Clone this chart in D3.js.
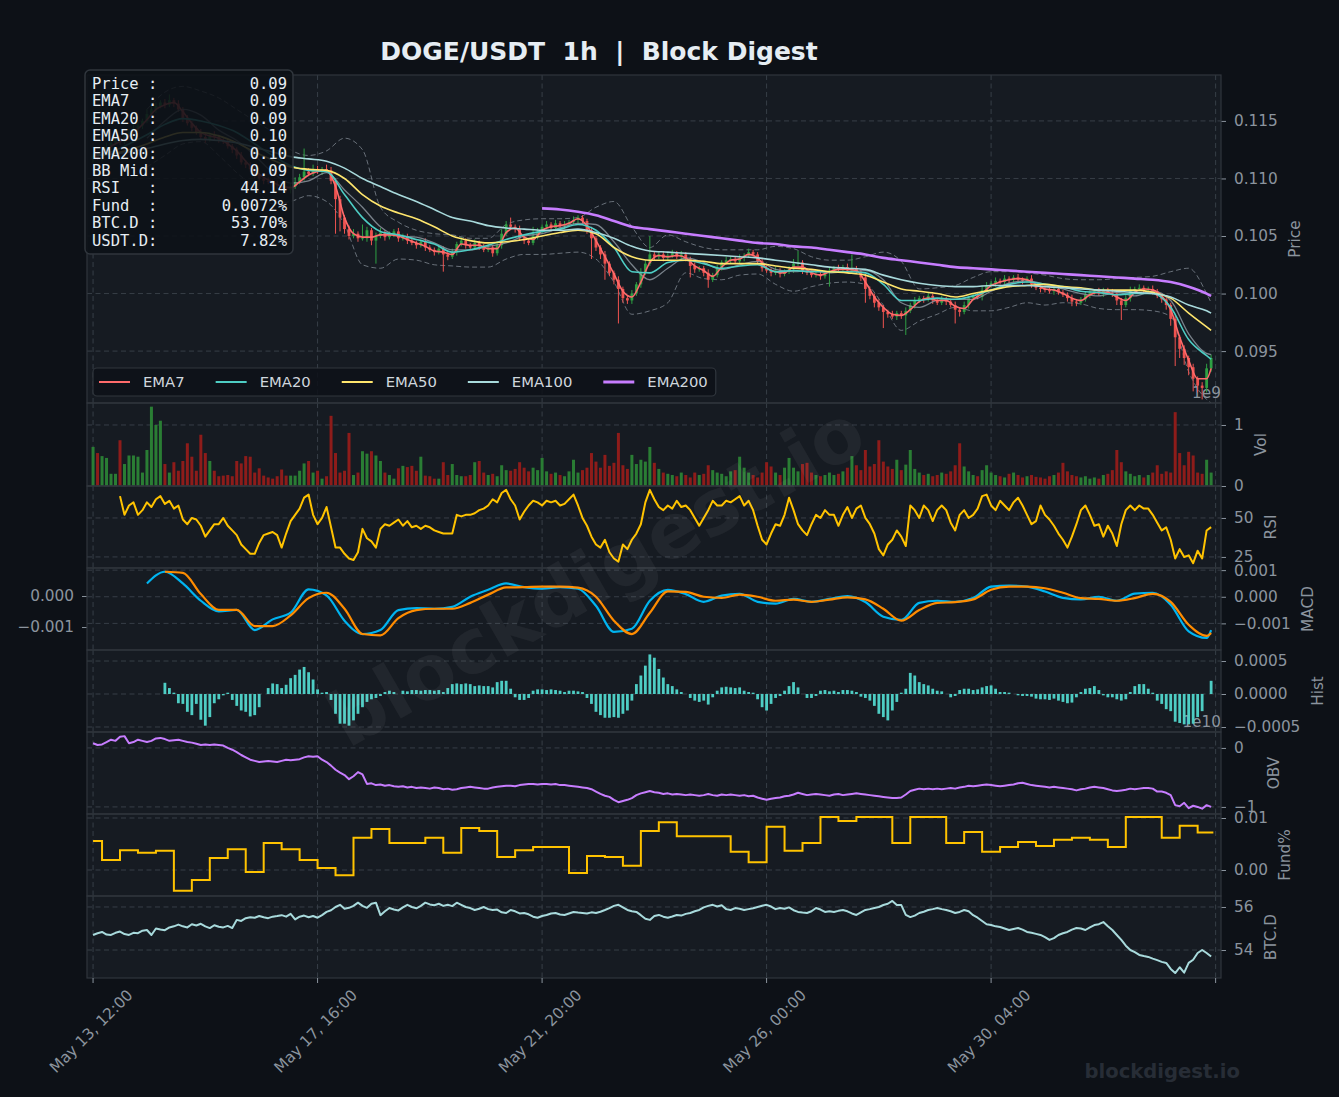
<!DOCTYPE html>
<html>
<head>
<meta charset="utf-8">
<script src="https://cdn.jsdelivr.net/npm/d3@7"></script>
<style>
  html, body { margin: 0; padding: 0; background: #0d1117; }
  svg { display: block; }
</style>
</head>
<body>
<div id="chart"></div>
<script>
// ---- data (hourly chart, sampled every 2h; prices in 1e-4 USDT) ----
const startUTC = Date.UTC(2025, 4, 13, 12);
const firstOpen = 1117;
const closes = [
  1120,1118,1124,1127,1131,1134,1132,1137,1140,1143, 1146,1150,1156,1160,1163,1166,1164,1168,1165,1160,
  1152,1148,1144,1140,1136,1134,1138,1136,1133,1132, 1128,1125,1120,1114,1112,1108,1103,1100,1098,1097,
  1095,1094,1091,1090,1093,1097,1101,1106,1104,1108, 1106,1108,1107,1098,1082,1066,1056,1050,1052,1048,
  1048,1055,1046,1050,1053,1049,1051,1054,1048,1050, 1046,1044,1042,1045,1040,1038,1036,1039,1034,1032,
  1036,1043,1046,1042,1040,1044,1041,1038,1040,1035, 1042,1052,1060,1058,1056,1048,1046,1044,1050,1054,
  1058,1060,1057,1061,1059,1060,1062,1064,1066,1063, 1055,1048,1040,1034,1026,1018,1012,1004,996,994,
  1000,1008,1018,1026,1034,1032,1034,1031,1033,1035, 1032,1034,1030,1024,1021,1022,1018,1012,1016,1022,
  1027,1029,1030,1028,1031,1033,1036,1034,1028,1022, 1020,1018,1020,1017,1019,1021,1026,1027,1020,1018,
  1016,1017,1015,1018,1020,1022,1021,1023,1020,1022, 1019,1014,1004,998,992,988,984,982,980,983,
  981,985,990,994,996,995,998,994,992,995, 993,990,986,984,990,996,998,997,1003,1007,
  1009,1011,1010,1013,1012,1014,1012,1011,1013,1008, 1005,1004,1003,1002,1004,1001,999,996,993,992,
  995,999,1001,1002,1000,1003,1001,1000,994,990, 996,1002,1004,1005,1003,1004,1002,998,995,990,
  978,962,952,944,936,926,920,918,935,944
];
const wickUp = [
  2,3,2,4,3,2,3,2,3,4, 3,2,4,4,3,2,3,5,2,3, 2,3,2,2,3,4,2,3,2,2, 3,2,2,3,2,2,3,2,2,3,
  2,3,2,2,3,4,3,20,3,4, 3,2,4,3,2,3,2,3,4,2, 12,3,2,3,4,2,3,2,3,2, 2,3,2,2,3,2,2,3,2,2,
  3,2,3,2,2,3,2,2,3,2, 3,4,3,6,2,3,2,2,8,3, 2,3,2,3,2,3,2,3,2,2, 2,3,2,2,3,2,2,3,2,2,
  3,2,4,3,16,3,2,3,2,3, 2,3,2,2,3,2,2,3,2,3, 2,3,2,2,3,2,3,2,2,3, 2,2,3,2,2,3,4,10,2,2,
  2,3,2,2,3,2,3,2,3,12, 2,2,3,2,2,3,2,2,3,2, 2,3,2,3,2,2,3,2,2,3, 2,2,3,2,3,2,2,3,4,3,
  2,3,2,3,2,2,3,2,2,3, 2,2,3,2,2,3,2,2,3,2, 2,3,2,2,3,2,2,3,2,2, 3,4,2,3,2,2,3,2,2,3,
  2,3,2,3,2,3,2,3,4,3
];
const wickDn = [
  3,2,3,2,3,2,3,2,2,3, 2,3,2,2,3,2,3,2,3,2, 3,2,3,2,2,3,2,3,2,2, 2,3,3,2,3,2,3,2,3,2,
  2,3,2,2,3,2,2,3,2,2, 2,3,2,3,30,12,4,3,2,3, 2,3,4,20,2,3,2,2,3,2, 3,2,3,2,3,2,3,2,15,3,
  2,3,2,3,2,2,3,2,2,3, 2,3,2,2,3,2,3,2,2,3, 2,2,3,2,2,3,2,2,3,2, 3,18,3,4,14,3,4,30,4,3,
  3,2,3,2,2,3,2,3,2,2, 2,3,2,10,3,2,3,7,2,2, 2,2,3,2,2,3,2,2,3,3, 2,3,2,3,2,2,3,2,3,2,
  2,2,3,2,12,2,3,2,2,3, 2,3,12,3,4,3,14,3,2,3, 3,17,2,3,2,3,2,3,2,2, 3,2,12,4,2,3,2,2,3,2,
  2,3,2,2,3,2,2,3,2,3, 2,3,2,2,3,2,2,3,4,3, 2,2,3,2,2,3,2,3,4,13, 2,3,2,2,3,2,3,2,3,4,
  6,25,8,6,7,11,6,10,4,3
];
// volume in 1e7 units, one value per 2h bar
const volumes = [
  64,54,49,46,20,20,75,36,50,50, 48,22,59,130,100,107,36,22,39,25, 41,70,48,25,84,54,41,25,16,17,
  18,16,41,37,49,48,22,29,17,14, 12,16,27,17,17,17,25,37,41,22, 25,12,16,115,54,22,25,87,18,22,
  57,53,57,50,41,22,18,12,29,33, 31,33,25,48,17,16,12,12,39,18, 36,18,16,16,18,39,41,22,18,20,
  16,34,26,25,28,39,30,24,30,26, 46,24,20,22,18,16,24,43,22,26, 30,54,40,30,51,33,38,87,34,28,
  51,36,43,40,64,38,28,22,20,18, 16,22,18,14,22,18,20,34,26,22, 20,16,24,26,48,30,22,18,14,22,
  39,32,22,18,30,46,30,24,36,38, 22,18,16,18,22,18,20,24,30,49, 34,26,59,32,36,75,40,32,28,43,
  26,35,59,28,22,18,20,16,18,22, 20,24,34,70,32,24,18,16,26,34, 22,18,16,14,20,22,18,14,16,18,
  15,14,12,16,18,22,38,24,18,16, 14,16,12,14,12,18,20,26,59,39, 24,20,16,18,14,18,22,34,20,24,
  22,121,54,34,56,50,22,20,43,22
];
// EMA7 sampled every 4h (last sample = last bar)
const ema7 = [
  1120,1121,1128,1132,1137,1143,1151,1160,1164,1166, 1158,1148,1140,1137,1135,1130,1124,1115,1107,1101,
  1097,1093,1092,1097,1103,1106,1107,1093,1066,1052, 1049,1049,1051,1051,1050,1047,1044,1041,1037,1036,
  1034,1043,1042,1042,1039,1039,1053,1057,1049,1047, 1055,1058,1059,1061,1065,1059,1046,1032,1017,1002,
  997,1010,1027,1033,1032,1033,1031,1024,1020,1015, 1023,1029,1030,1034,1031,1022,1019,1018,1023,1023,
  1018,1016,1019,1021,1021,1020,1010,997,988,982, 981,986,993,996,994,994,989,987,995,1000,
  1007,1010,1012,1013,1012,1008,1004,1003,1000,996, 994,999,1001,1001,997,994,1001,1004,1003,998,
  986,962,942,926,926,935
];
// slower lines sampled every 8h (last sample = last bar)
const ema20 = [
  1120,1123,1130,1138,1147,1152,1150,1146,1140,1130, 1120,1111,1107,1106,1086,1066,1054,1051,1047,1043,
  1036,1038,1042,1047,1051,1054,1056,1060,1055,1040, 1019,1018,1027,1029,1026,1022,1024,1025,1019,1020,
  1019,1019,1019,1018,1008,994,994,996,995,998, 1003,1008,1010,1008,1006,1002,1001,999,1000,1000,
  988,960,946,943
];
const ema50 = [
  1120,1121,1125,1130,1136,1140,1140,1137,1131,1123, 1116,1110,1108,1107,1100,1086,1076,1070,1065,1058,
  1050,1046,1044,1045,1047,1050,1053,1055,1052,1040, 1032,1029,1029,1029,1028,1026,1026,1026,1024,1022,
  1021,1019,1018,1016,1010,1004,1002,1000,997,1000, 1003,1006,1007,1008,1006,1005,1003,1003,1003,1001,
  996,983,971,968
];
const ema100 = [
  1120,1121,1123,1126,1130,1133,1134,1133,1131,1127, 1123,1119,1117,1115,1109,1100,1093,1086,1080,1073,
  1066,1063,1059,1057,1056,1055,1055,1056,1053,1048, 1041,1037,1036,1035,1034,1033,1032,1031,1029,1027,
  1025,1023,1022,1021,1016,1012,1009,1007,1006,1006, 1007,1007,1007,1006,1005,1004,1003,1002,1001,1000,
  997,990,985,983
];
const ema200 = [
  null,null,null,null,null,null,null,null,null,null, null,null,null,null,null,null,null,null,null,null,
  null,null,null,null,null,1074,1073,1071,1068,1063, 1058,1056,1054,1052,1050,1048,1046,1044,1043,1041,
  1040,1038,1036,1034,1031,1029,1027,1025,1023,1022, 1021,1020,1019,1018,1017,1016,1015,1014,1013,1012,
  1010,1006,1000,998
];
const bbMid = [
  null,null,null,1135,1150,1160,1155,1142,1133,1120, 1105,1096,1098,1105,1090,1075,1058,1050,1049,1044,
  1038,1038,1041,1044,1050,1052,1057,1061,1060,1045, 1025,1012,1022,1031,1027,1021,1025,1028,1021,1019,
  1020,1018,1019,1020,1012,992,988,994,995,995, 1002,1009,1011,1008,1004,1000,998,1001,998,1002,
  994,965,948,947
];
const bbUpper = [
  null,null,null,1160,1175,1180,1176,1170,1160,1150, 1140,1125,1120,1124,1135,1125,1075,1062,1055,1052,
  1051,1048,1048,1060,1064,1065,1065,1066,1075,1080, 1058,1040,1051,1045,1040,1038,1038,1038,1041,1039,
  1032,1029,1029,1032,1036,1028,1004,1005,1007,1014, 1019,1019,1018,1016,1013,1012,1012,1013,1014,1015,
  1019,1022,1000,992
];
const bbLower = [
  null,null,null,1110,1120,1130,1132,1120,1105,1092, 1078,1080,1085,1080,1060,1025,1022,1030,1029,1025,
  1024,1023,1023,1030,1034,1034,1035,1036,1030,1010, 982,985,992,1018,1013,1012,1016,1017,1008,1002,
  1006,1009,1010,1008,990,968,976,982,988,985, 985,988,992,990,992,991,987,986,986,985,
  980,932,908,905
];
// RSI per 2h bar
const rsi = [
  null,null,null,null,null,null,64,52,58,60, 52,55,60,57,62,64,59,61,56,58, 49,46,50,49,45,38,42,46,46,50,
  45,42,39,33,30,27,27,34,39,40, 41,39,31,40,48,52,56,63,65,52, 46,50,57,44,31,31,27,24,23,28,
  43,37,35,31,43,46,45,47,49,45, 48,44,45,43,45,44,42,41,40,40, 40,52,51,52,52,53,55,56,58,62,
  60,66,68,62,58,49,54,58,61,60, 58,61,60,61,58,59,62,65,58,50, 45,38,33,31,36,28,24,22,33,30,
  36,40,46,60,68,62,57,55,58,56, 61,57,58,55,50,45,50,55,61,58, 58,61,60,62,64,58,61,55,45,36,
  33,40,46,45,52,63,55,46,42,39, 46,52,50,55,52,52,45,52,57,50, 56,58,50,46,40,30,26,33,36,42,
  38,32,58,55,50,58,55,48,55,58, 55,47,42,52,55,50,52,56,64,65, 58,55,61,58,55,60,63,58,52,46,
  48,58,52,49,45,40,36,31,38,46, 55,58,52,45,46,38,45,40,32,46, 55,58,55,58,56,56,52,47,42,44,
  36,24,30,25,26,21,29,24,42,44.14
];
// MACD / signal sampled every 8h, in 1e-4
const macd = [
  null,null,null,5.0,9.4,5.0,-1.5,-5.5,-4.9,-12.5, -8.5,-6.0,2.8,0.5,-9.0,-14.0,-12.5,-5.0,-4.3,-4.5,
  -3.8,0,2.6,5.0,3.6,3.0,3.6,3.0,-3.4,-13.2, -12.0,-1.5,2.6,1.0,-1.9,0.4,1.1,-1.9,-2.6,-0.8,
  -1.9,-0.8,0.2,-2.0,-7.5,-8.7,-2.3,-1.5,-1.9,-0.5, 3.8,4.2,3.8,2.0,-0.4,-1.0,0,-1.5,1.2,1.5,
  -3.0,-13.0,-15.5,-12.5
];
const macdSignal = [
  null,null,null,null,9.4,9.0,1.0,-4.9,-4.9,-11.0, -11.0,-7.0,-0.5,1.5,-4.5,-14.0,-14.5,-8.0,-5.0,-4.5,
  -4.5,-2.3,0.8,3.5,3.6,3.8,3.8,3.4,0,-9.0, -14.0,-6.0,2.0,1.8,0,-0.4,0.8,0,-1.5,-1.1,
  -1.9,-1.1,-0.2,-1.0,-4.5,-9.0,-5.0,-2.3,-2.0,-1.0, 2.6,3.8,3.8,3.2,1.5,-0.5,-0.8,-1.5,-0.5,1.1,
  -1.9,-10.5,-14.7,-13.6
];
// MACD histogram per 2h bar, in 1e-4
const macdHist = [
  null,null,null,null,null,null,null,null,null,null, null,null,null,null,null,null,1.7,0.9,0.2,-1.4,
  -1.5,-2.7,-3.2,-1.5,-3.9,-4.8,-3.5,-1.4,-0.8,-0.2, 0.2,-0.9,-1.8,-2.5,-2.7,-3.4,-3.2,-2.0,0,0.9,
  1.6,1.5,0.9,1.4,2.4,2.9,3.7,4.1,3.3,2.2, 0.7,0.2,0.3,-0.9,-3.0,-4.5,-4.5,-4.8,-4.0,-3.0,
  -2.0,-1.2,-0.8,-0.6,-0.3,0.3,0.5,0.3,0,0.5, 0.4,0.6,0.6,0.5,0.6,0.6,0.5,0.6,0.3,0.9,
  1.5,1.6,1.5,1.6,1.5,1.2,1.3,1.2,1.2,1.0, 1.8,2.0,2.0,0.8,-0.5,-0.9,-0.9,-0.6,0.5,0.7,
  0.7,0.6,0.7,0.6,0.5,0.3,0.5,0.5,0.4,0.3, -0.6,-1.5,-2.7,-3.2,-3.6,-3.6,-3.5,-3.6,-3.0,-2.5,
  -1.0,1.5,2.8,4.3,6.0,5.5,3.8,2.5,1.5,1.2, 0.7,0.3,0,-0.6,-1.0,-1.2,-1.0,-1.6,-0.5,0.5,
  1.0,1.1,1.0,0.9,1.0,0.5,0.3,0.2,-0.8,-2.0, -2.5,-1.5,-0.6,-0.3,0.5,1.2,1.8,1.0,0,-0.6,
  -0.6,-0.3,0.5,0.6,0.4,0.5,0.3,0.6,0.6,0.5, 0.3,-0.4,-0.6,-1.0,-1.8,-3.0,-3.5,-4.0,-2.5,-1.2,
  0.2,0.8,3.2,2.8,1.8,1.5,1.3,0.8,0.5,0.4, 0,-0.5,-0.3,0.6,0.8,0.8,0.6,0.7,1.0,1.2,
  1.3,0.8,0.3,0.3,0.2,0,-0.2,-0.3,-0.3,-0.4, -0.7,-0.8,-0.8,-0.9,-0.7,-1.0,-1.2,-1.4,-1.3,-0.5,
  0.3,0.8,0.9,1.2,0.6,-0.2,-0.5,-0.5,-0.8,-1.0, -0.8,0.3,1.2,1.5,1.5,0.8,0.2,-1.0,-1.5,-2.3,
  -2.6,-4.2,-4.4,-4.6,-4.6,-4.5,-3.5,-2.6,0,2.0
];
// OBV per 2h bar, in 1e8
const obv = [
  8,5,6,10,14,12,19,20,8,10, 14,12,10,12,16,17,15,12,13,14, 12,10,9,7,5,6,5,6,5,4,
  0,-3,-7,-12,-16,-20,-22,-24,-23,-22, -23,-24,-22,-20,-21,-20,-19,-16,-14,-15, -14,-20,-24,-30,-37,-42,-46,-53,-48,-41,
  -45,-61,-60,-63,-62,-64,-63,-65,-66,-65, -67,-66,-68,-67,-68,-69,-67,-68,-70,-69, -71,-70,-68,-67,-66,-67,-68,-69,-69,-67,
  -66,-65,-64,-64,-65,-63,-62,-61,-61,-62, -61,-61,-62,-61,-63,-63,-64,-65,-66,-67, -68,-70,-74,-78,-81,-83,-88,-92,-90,-88,
  -85,-80,-77,-75,-73,-75,-76,-78,-77,-79, -78,-79,-80,-79,-80,-81,-80,-78,-80,-81, -79,-80,-79,-80,-81,-80,-82,-81,-84,-86,
  -88,-86,-85,-84,-82,-81,-79,-76,-78,-80, -79,-78,-79,-80,-81,-79,-78,-80,-79,-78, -77,-78,-79,-80,-81,-82,-83,-84,-85,-85,
  -84,-79,-73,-71,-69,-70,-69,-70,-69,-70, -69,-68,-69,-67,-66,-64,-65,-64,-63,-62, -63,-64,-65,-64,-63,-62,-60,-59,-61,-63,
  -64,-65,-66,-67,-66,-67,-68,-69,-70,-72, -70,-69,-67,-66,-67,-68,-70,-72,-73,-72, -71,-69,-70,-69,-68,-68,-69,-74,-74,-76,
  -80,-97,-99,-93,-102,-98,-100,-103,-97,-100
];
// funding rate (%) per 8h funding window
const funding = [
  0.0056,0.0019,0.0038,0.0033,0.0037,-0.0040,-0.0019,0.0023,0.0040,-0.0004,
  0.0052,0.0040,0.0019,0.0004,-0.0010,0.0062,0.0079,0.0052,0.0052,0.0062,
  0.0033,0.0081,0.0075,0.0025,0.0038,0.0044,0.0044,-0.0006,0.0027,0.0025,
  0.0008,0.0075,0.0092,0.0065,0.0065,0.0065,0.0035,0.0015,0.0083,0.0037,
  0.0052,0.0102,0.0094,0.0102,0.0102,0.0052,0.0102,0.0102,0.0052,0.0073,
  0.0035,0.0044,0.0054,0.0046,0.0058,0.0062,0.0058,0.0044,0.0102,0.0102,
  0.0062,0.0085,0.0072
];
// BTC dominance (%) per 2h bar
const btcDom = [
  54.70,54.78,54.84,54.72,54.70,54.80,54.86,54.74,54.70,54.80, 54.78,54.90,54.93,54.70,55.00,54.95,54.92,55.05,55.10,55.18,
  55.10,55.05,55.20,55.14,55.22,55.10,55.02,55.15,55.08,55.05, 55.12,55.02,55.40,55.35,55.48,55.52,55.50,55.58,55.52,55.48,
  55.55,55.58,55.62,55.55,55.68,55.42,55.55,55.60,55.52,55.58, 55.50,55.62,55.77,55.85,56.00,56.10,55.92,55.96,56.05,56.20,
  56.05,55.96,56.15,56.20,55.62,55.80,55.95,55.88,55.84,55.98, 56.10,56.00,55.94,56.05,56.20,56.12,56.08,56.15,56.05,56.10,
  56.04,56.20,56.10,56.00,55.95,55.86,55.92,56.00,55.90,55.86, 55.88,55.75,55.72,55.86,55.80,55.70,55.72,55.66,55.55,55.50,
  55.58,55.63,55.70,55.72,55.65,55.63,55.70,55.77,55.74,55.72, 55.70,55.75,55.72,55.78,55.86,55.95,56.05,56.10,55.98,55.86,
  55.80,55.77,55.62,55.45,55.40,55.58,55.63,55.55,55.50,55.56, 55.63,55.60,55.68,55.72,55.80,55.86,55.98,56.05,56.10,56.02,
  56.08,55.90,55.86,55.95,55.92,55.86,55.90,55.94,56.00,56.06, 56.10,56.02,55.90,55.95,55.92,55.98,55.85,55.77,55.74,55.72,
  55.80,55.95,55.88,55.77,55.80,55.77,55.82,55.86,55.80,55.70, 55.63,55.75,55.86,55.90,55.95,56.00,56.09,56.15,56.28,56.09,
  56.09,55.63,55.53,55.60,55.72,55.78,55.86,55.90,55.95,55.90, 55.86,55.80,55.72,55.77,55.86,55.80,55.62,55.50,55.35,55.20,
  55.16,55.10,55.07,55.00,54.93,54.98,55.02,54.95,54.84,54.80, 54.75,54.70,54.60,54.47,54.55,54.70,54.78,54.84,54.95,55.02,
  55.00,54.93,55.05,55.16,55.20,55.30,55.10,54.93,54.70,54.47, 54.20,54.00,53.90,53.77,53.72,53.68,53.60,53.53,53.45,53.40,
  53.12,52.93,53.20,52.95,53.40,53.55,53.86,54.00,53.86,53.70
];
const usdtDom = 7.82;

const title = 'DOGE/USDT  1h  |  Block Digest';
const xTickHours = [0, 100, 200, 300, 400, 500];
const priceTicks = [0.095, 0.100, 0.105, 0.110, 0.115];
const volTicks = [0, 1e9];
const rsiTicks = [25, 50];
const macdTicks = [0.001, 0, -0.001];
const macdLeftTicks = [0, -0.001];
const histTicks = [0.0005, 0, -0.0005];
const obvTicks = [0, -1e10];
const fundTicks = [0.01, 0];
const btcTicks = [54, 56];

// ---- layout / style ----
const W = 1339, H = 1097;
const L = 87, R = 1221;
const BG = '#0d1117', PANEL = '#161b22', EDGE = '#30363d', GRID = '#373e47', TXT = '#8b949e';
const UP = '#2ea043', DOWN = '#ef5350', VUP = '#2a7d34', VDOWN = '#8e1c1a';
const COLORS = {ema7: '#ff6b6b', ema20: '#4ecdc4', ema50: '#ffe66d', ema100: '#a8dadc', ema200: '#c77dff'};
const FONT = '"DejaVu Sans", "Liberation Sans", sans-serif';
const MONO = '"DejaVu Sans Mono", "Liberation Mono", monospace';

const svg = d3.select('#chart').append('svg').attr('width', W).attr('height', H)
  .style('font-family', FONT);
svg.append('rect').attr('width', W).attr('height', H).attr('fill', BG);

const x = d3.scaleLinear().domain([-2.7, 502.4]).range([L, R]);
const barHour = i => 2 * i;
const last = closes.length - 1;
const sampled = (arr, step) => arr.map((v, j) => ({h: barHour(Math.min(j * step, last)), v}));
const perBar = arr => arr.map((v, i) => ({h: barHour(i), v}));
const P = v => v / 1e4;

const panels = [
  {key: 'price', top: 75, bottom: 403},
  {key: 'vol', top: 403, bottom: 486},
  {key: 'rsi', top: 486, bottom: 568},
  {key: 'macd', top: 568, bottom: 650},
  {key: 'hist', top: 650, bottom: 732},
  {key: 'obv', top: 732, bottom: 814},
  {key: 'fund', top: 814, bottom: 896},
  {key: 'btc', top: 896, bottom: 978}
];
const pn = {};
panels.forEach(p => pn[p.key] = p);

const yPrice = d3.scaleLinear().domain([0.09049, 0.11899]).range([403, 75]);
const yVol = d3.scaleLinear().domain([0, 1.36e9]).range([486, 403]);
const yRsi = d3.scaleLinear().domain([17.9, 70.5]).range([568, 486]);
const yMacd = d3.scaleLinear().domain([-0.0020, 0.00108]).range([650, 568]);
const yMacdL = d3.scaleLinear().domain([-0.00174, 0.000903]).range([650, 568]);
const yHist = d3.scaleLinear().domain([-0.000576, 0.000667]).range([732, 650]);
const yObv = d3.scaleLinear().domain([-1.12e10, 0.27e10]).range([814, 732]);
const yFund = d3.scaleLinear().domain([-0.005, 0.01077]).range([896, 814]);
const yBtc = d3.scaleLinear().domain([52.7, 56.51]).range([978, 896]);

// panel backgrounds
const defs = svg.append('defs');
panels.forEach(p => {
  svg.append('rect').attr('x', L).attr('y', p.top).attr('width', R - L).attr('height', p.bottom - p.top)
    .attr('fill', PANEL);
  defs.append('clipPath').attr('id', 'clip-' + p.key).append('rect')
    .attr('x', L).attr('y', p.top).attr('width', R - L).attr('height', p.bottom - p.top);
});

// vertical grid
const gridG = svg.append('g');
xTickHours.forEach(h => {
  panels.forEach(p => {
    gridG.append('line').attr('x1', x(h)).attr('x2', x(h)).attr('y1', p.top).attr('y2', p.bottom)
      .attr('stroke', GRID).attr('stroke-width', 1).attr('stroke-dasharray', '5,3.5');
  });
});

function rightAxis(p, scale, ticks, fmt, label) {
  ticks.forEach(t => {
    gridG.append('line').attr('x1', L).attr('x2', R).attr('y1', scale(t)).attr('y2', scale(t))
      .attr('stroke', GRID).attr('stroke-width', 1).attr('stroke-dasharray', '5,3.5');
  });
  const g = svg.append('g').attr('transform', `translate(${R},0)`)
    .call(d3.axisRight(scale).tickValues(ticks).tickFormat(fmt).tickSize(5).tickPadding(8));
  g.select('.domain').remove();
  g.selectAll('.tick line').attr('stroke', TXT);
  g.selectAll('.tick text').attr('fill', TXT).style('font-size', '15.3px').style('font-family', FONT);
  let maxW = 0;
  g.selectAll('.tick text').each(function () { maxW = Math.max(maxW, this.getComputedTextLength()); });
  const lx = R + 13 + maxW + 17;
  const cy = (p.top + p.bottom) / 2;
  svg.append('text').attr('transform', `translate(${lx},${cy}) rotate(-90)`)
    .attr('text-anchor', 'middle').attr('dy', '0.35em')
    .attr('fill', TXT).style('font-size', '15.3px').text(label);
}

rightAxis(pn.price, yPrice, priceTicks, d3.format('.3f'), 'Price');
rightAxis(pn.vol, yVol, volTicks, d => d3.format('d')(d / 1e9), 'Vol');
rightAxis(pn.rsi, yRsi, rsiTicks, d3.format('d'), 'RSI');
rightAxis(pn.macd, yMacd, macdTicks, d3.format('.3f'), 'MACD');
rightAxis(pn.hist, yHist, histTicks, d3.format('.4f'), 'Hist');
rightAxis(pn.obv, yObv, obvTicks, d => d3.format('d')(d / 1e10), 'OBV');
rightAxis(pn.fund, yFund, fundTicks, d3.format('.2f'), 'Fund%');
rightAxis(pn.btc, yBtc, btcTicks, d3.format('d'), 'BTC.D');

// left MACD axis
{
  const g = svg.append('g').attr('transform', `translate(${L},0)`)
    .call(d3.axisLeft(yMacdL).tickValues(macdLeftTicks).tickFormat(d3.format('.3f')).tickSize(5).tickPadding(8));
  g.select('.domain').remove();
  g.selectAll('.tick line').attr('stroke', TXT);
  g.selectAll('.tick text').attr('fill', TXT).style('font-size', '15.3px').style('font-family', FONT);
}

// offset texts
svg.append('text').attr('x', R).attr('y', 398).attr('text-anchor', 'end').attr('fill', TXT)
  .style('font-size', '15.3px').text('1e9');
svg.append('text').attr('x', R).attr('y', 727).attr('text-anchor', 'end').attr('fill', TXT)
  .style('font-size', '15.3px').text('1e10');

// ---- price panel ----
const gp = svg.append('g').attr('clip-path', 'url(#clip-price)');
const line = (ys, curve) => d3.line().defined(d => d.v != null)
  .x(d => x(d.h)).y(d => ys(P(d.v))).curve(curve || d3.curveLinear);

[bbUpper, bbLower].forEach(band => {
  gp.append('path').datum(sampled(band, 4)).attr('d', line(yPrice, d3.curveMonotoneX))
    .attr('fill', 'none').attr('stroke', '#8b949e').attr('stroke-opacity', 0.7).attr('stroke-width', 1)
    .attr('stroke-dasharray', '5,3');
});

const candles = closes.map((c, i) => {
  const o = i ? closes[i - 1] : firstOpen;
  return {h: barHour(i), o, c, hi: Math.max(o, c) + wickUp[i], lo: Math.min(o, c) - wickDn[i], up: c >= o};
});
gp.append('g').selectAll('line').data(candles).join('line')
  .attr('x1', d => x(d.h)).attr('x2', d => x(d.h))
  .attr('y1', d => yPrice(P(d.hi))).attr('y2', d => yPrice(P(d.lo)))
  .attr('stroke', d => d.up ? UP : DOWN).attr('stroke-width', 1);
gp.append('g').selectAll('rect').data(candles).join('rect')
  .attr('x', d => x(d.h) - 1.4).attr('width', 2.8)
  .attr('y', d => yPrice(P(Math.max(d.o, d.c))))
  .attr('height', d => Math.max(0.8, yPrice(P(Math.min(d.o, d.c))) - yPrice(P(Math.max(d.o, d.c)))))
  .attr('fill', d => d.up ? UP : DOWN);

gp.append('path').datum(sampled(bbMid, 4)).attr('d', line(yPrice, d3.curveMonotoneX))
  .attr('fill', 'none').attr('stroke', '#8b949e').attr('stroke-opacity', 0.85).attr('stroke-width', 1.3);

const emaSeries = [
  {name: 'EMA7', data: sampled(ema7, 2), color: COLORS.ema7, w: 1.6},
  {name: 'EMA20', data: sampled(ema20, 4), color: COLORS.ema20, w: 1.6},
  {name: 'EMA50', data: sampled(ema50, 4), color: COLORS.ema50, w: 1.6},
  {name: 'EMA100', data: sampled(ema100, 4), color: COLORS.ema100, w: 1.6},
  {name: 'EMA200', data: sampled(ema200, 4), color: COLORS.ema200, w: 2.6}
];
emaSeries.forEach(s => {
  gp.append('path').datum(s.data).attr('d', line(yPrice, d3.curveMonotoneX))
    .attr('fill', 'none').attr('stroke', s.color).attr('stroke-width', s.w);
});

// ---- volume ----
const gv = svg.append('g').attr('clip-path', 'url(#clip-vol)');
gv.selectAll('rect').data(volumes.map((v, i) => ({h: barHour(i), v: v * 1e7, up: candles[i].up}))).join('rect')
  .attr('x', d => x(d.h) - 1.5).attr('width', 3)
  .attr('y', d => yVol(d.v)).attr('height', d => yVol(0) - yVol(d.v))
  .attr('fill', d => d.up ? VUP : VDOWN);

// ---- RSI ----
const plain = (ys, curve) => d3.line().defined(d => d.v != null)
  .x(d => x(d.h)).y(d => ys(d.v)).curve(curve || d3.curveLinear);
svg.append('g').attr('clip-path', 'url(#clip-rsi)').append('path').datum(perBar(rsi))
  .attr('d', plain(yRsi)).attr('fill', 'none').attr('stroke', '#ffc300').attr('stroke-width', 2)
  .attr('stroke-linejoin', 'round');

// ---- MACD ----
const gm = svg.append('g').attr('clip-path', 'url(#clip-macd)');
gm.append('path').datum(sampled(macd, 4).map(d => ({h: d.h, v: d.v == null ? null : d.v / 1e4})))
  .attr('d', plain(yMacd, d3.curveMonotoneX)).attr('fill', 'none').attr('stroke', '#00b4f0').attr('stroke-width', 2.2);
gm.append('path').datum(sampled(macdSignal, 4).map(d => ({h: d.h, v: d.v == null ? null : d.v / 1e4})))
  .attr('d', plain(yMacd, d3.curveMonotoneX)).attr('fill', 'none').attr('stroke', '#ff8c00').attr('stroke-width', 2.2);

// ---- histogram ----
svg.append('g').attr('clip-path', 'url(#clip-hist)').selectAll('rect')
  .data(macdHist.map((v, i) => ({h: barHour(i), v: v == null ? null : v / 1e4})).filter(d => d.v != null))
  .join('rect')
  .attr('x', d => x(d.h) - 1.4).attr('width', 2.8)
  .attr('y', d => Math.min(yHist(d.v), yHist(0))).attr('height', d => Math.abs(yHist(d.v) - yHist(0)))
  .attr('fill', '#4ecdc4');

// ---- OBV ----
svg.append('g').attr('clip-path', 'url(#clip-obv)').append('path')
  .datum(obv.map((v, i) => ({h: barHour(i), v: v * 1e8})))
  .attr('d', plain(yObv)).attr('fill', 'none').attr('stroke', '#c77dff').attr('stroke-width', 2)
  .attr('stroke-linejoin', 'round');

// ---- funding (8h windows at 00/08/16 UTC) ----
const startHourUTC = new Date(startUTC).getUTCHours();
const fundPts = funding.map((v, k) => ({h: k === 0 ? 0 : (8 - startHourUTC % 8) % 8 + 8 * (k - 1), v}));
fundPts.push({h: barHour(last) + 1, v: funding[funding.length - 1]});
svg.append('g').attr('clip-path', 'url(#clip-fund)').append('path').datum(fundPts)
  .attr('d', plain(yFund, d3.curveStepAfter)).attr('fill', 'none').attr('stroke', '#ffc300').attr('stroke-width', 2);

// ---- BTC dominance ----
svg.append('g').attr('clip-path', 'url(#clip-btc)').append('path').datum(perBar(btcDom))
  .attr('d', plain(yBtc)).attr('fill', 'none').attr('stroke', '#a8dadc').attr('stroke-width', 2)
  .attr('stroke-linejoin', 'round');

// panel borders
panels.forEach(p => {
  svg.append('rect').attr('x', L).attr('y', p.top).attr('width', R - L).attr('height', p.bottom - p.top)
    .attr('fill', 'none').attr('stroke', EDGE).attr('stroke-width', 1.2);
});

// x axis
const fmtDate = d3.utcFormat('%b %d, %H:%M');
const xg = svg.append('g');
xTickHours.forEach(h => {
  xg.append('line').attr('x1', x(h)).attr('x2', x(h)).attr('y1', 978).attr('y2', 983)
    .attr('stroke', TXT).attr('stroke-width', 1);
  if (h > barHour(last)) return; // no bar at this index, no label
  const t = xg.append('text').attr('fill', TXT).style('font-size', '15.3px')
    .attr('text-anchor', 'middle').attr('dy', '0.35em')
    .text(fmtDate(new Date(startUTC + h * 3600e3)));
  const w = t.node().getComputedTextLength();
  const half = (w + 15) * Math.SQRT1_2 / 2;
  t.attr('transform', `translate(${x(h) - 2},${987 + half}) rotate(-45)`);
});

// title
svg.append('text').attr('x', 599).attr('y', 60).attr('text-anchor', 'middle')
  .attr('fill', '#e6edf3').style('font-size', '25px').style('font-weight', 'bold')
  .style('white-space', 'pre').attr('xml:space', 'preserve').text(title);

// legend
{
  const lg = svg.append('g');
  const box = lg.append('rect').attr('x', 93).attr('y', 368).attr('height', 28).attr('rx', 4)
    .attr('fill', BG).attr('fill-opacity', 0.85).attr('stroke', EDGE).attr('stroke-width', 1.2);
  let cx = 99;
  emaSeries.forEach(s => {
    lg.append('line').attr('x1', cx).attr('x2', cx + 31).attr('y1', 382).attr('y2', 382)
      .attr('stroke', s.color).attr('stroke-width', s.w + 0.4);
    const t = lg.append('text').attr('x', cx + 44).attr('y', 382).attr('dy', '0.35em')
      .attr('fill', '#d0d7de').style('font-size', '14.8px').text(s.name);
    cx = cx + 44 + t.node().getComputedTextLength() + 31;
  });
  box.attr('width', cx - 31 + 8 - 93);
}

// info box (latest values)
{
  const g = svg.append('g');
  g.append('rect').attr('x', 85).attr('y', 70).attr('width', 208).attr('height', 184).attr('rx', 5)
    .attr('fill', BG).attr('fill-opacity', 0.88).attr('stroke', EDGE).attr('stroke-width', 1.5);
  const f2 = v => d3.format('.2f')(v);
  const rows = [
    ['Price :', f2(P(closes[last]))],
    ['EMA7  :', f2(P(ema7[ema7.length - 1]))],
    ['EMA20 :', f2(P(ema20[ema20.length - 1]))],
    ['EMA50 :', f2(P(ema50[ema50.length - 1]))],
    ['EMA200:', f2(P(ema200[ema200.length - 1]))],
    ['BB Mid:', f2(P(bbMid[bbMid.length - 1]))],
    ['RSI   :', f2(rsi[rsi.length - 1])],
    ['Fund  :', d3.format('.4f')(funding[funding.length - 1]) + '%'],
    ['BTC.D :', f2(btcDom[btcDom.length - 1]) + '%'],
    ['USDT.D:', f2(usdtDom) + '%']
  ];
  rows.forEach((r, k) => {
    const y = 89 + k * 17.4;
    g.append('text').attr('x', 92).attr('y', y).attr('fill', '#e6edf3')
      .style('font-family', MONO).style('font-size', '15.5px').style('white-space', 'pre')
      .attr('xml:space', 'preserve').text(r[0]);
    g.append('text').attr('x', 287).attr('y', y).attr('text-anchor', 'end').attr('fill', '#e6edf3')
      .style('font-family', MONO).style('font-size', '15.5px').text(r[1]);
  });
}

// watermarks
svg.append('text').attr('transform', 'translate(596,575) rotate(-30)').attr('text-anchor', 'middle')
  .attr('dy', '0.35em').attr('fill', '#ffffff').attr('fill-opacity', 0.05)
  .style('font-size', '76px').style('font-weight', 'bold').text('blockdigest.io');
svg.append('text').attr('x', 1240).attr('y', 1078).attr('text-anchor', 'end')
  .attr('fill', '#272d36').style('font-size', '19.6px').style('font-weight', 'bold').text('blockdigest.io');
</script>
</body>
</html>
